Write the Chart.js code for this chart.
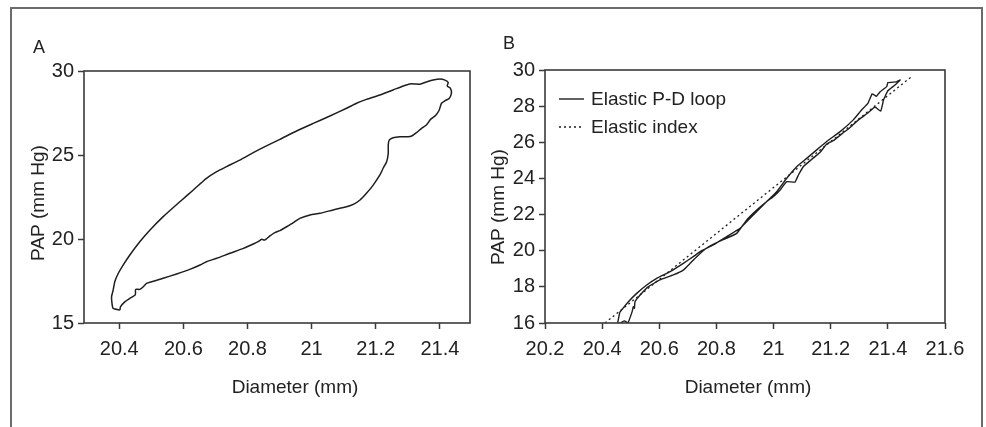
<!DOCTYPE html>
<html>
<head>
<meta charset="utf-8">
<script src="https://cdn.jsdelivr.net/npm/chart.js@4/dist/chart.umd.min.js"></script>
<style>
html,body{margin:0;padding:0;background:#fff;width:986px;height:427px;overflow:hidden;position:relative}
#frame{position:absolute;left:10px;top:7px;width:973px;height:440px;border:2px solid #6b6b6b;border-bottom:none;box-sizing:border-box}
#ca{position:absolute;left:0;top:0}
#cb{position:absolute;left:476px;top:0}
</style>
</head>
<body>
<div id="frame"></div>
<canvas id="ca" width="480" height="427"></canvas>
<canvas id="cb" width="510" height="427"></canvas>
<script>
// ---------- Panel A data: pressure-diameter loop ----------
const loopA_x = [20.402, 20.381, 20.378, 20.376, 20.381, 20.386, 20.397, 20.412, 20.433, 20.464, 20.496, 20.537, 20.589, 20.631, 20.672, 20.704, 20.735, 20.776, 20.818, 20.859, 20.901, 20.953, 21.005, 21.057, 21.109, 21.140, 21.171, 21.213, 21.254, 21.286, 21.306, 21.322, 21.338, 21.358, 21.379, 21.400, 21.416, 21.426, 21.423, 21.433, 21.436, 21.429, 21.416, 21.405, 21.398, 21.388, 21.371, 21.358, 21.343, 21.327, 21.312, 21.301, 21.275, 21.254, 21.242, 21.239, 21.239, 21.234, 21.223, 21.213, 21.192, 21.171, 21.151, 21.130, 21.109, 21.067, 21.026, 20.995, 20.963, 20.943, 20.922, 20.901, 20.885, 20.870, 20.854, 20.844, 20.833, 20.818, 20.787, 20.745, 20.704, 20.672, 20.652, 20.620, 20.579, 20.537, 20.501, 20.485, 20.475, 20.464, 20.451, 20.450, 20.433, 20.418, 20.404, 20.402];
const loopA_y = [15.77, 15.87, 16.07, 16.57, 16.96, 17.46, 17.96, 18.45, 19.05, 19.84, 20.54, 21.33, 22.22, 22.92, 23.61, 24.01, 24.31, 24.70, 25.14, 25.54, 25.93, 26.43, 26.88, 27.32, 27.78, 28.08, 28.31, 28.57, 28.87, 29.11, 29.23, 29.23, 29.21, 29.35, 29.46, 29.52, 29.46, 29.31, 29.11, 28.97, 28.67, 28.37, 28.23, 28.08, 27.68, 27.38, 27.12, 26.79, 26.59, 26.33, 26.13, 26.09, 26.09, 26.03, 25.89, 25.60, 25.10, 24.60, 24.21, 23.81, 23.21, 22.72, 22.32, 22.06, 21.92, 21.73, 21.53, 21.43, 21.23, 20.97, 20.73, 20.50, 20.38, 20.18, 19.94, 19.98, 19.84, 19.70, 19.44, 19.15, 18.85, 18.65, 18.45, 18.19, 17.92, 17.66, 17.46, 17.36, 17.16, 17.00, 17.00, 16.67, 16.47, 16.27, 15.97, 15.77];
const ticksA_x = [20.4, 20.6, 20.8, 21, 21.2, 21.4];
const labelsA_x = ['20.4', '20.6', '20.8', '21', '21.2', '21.4'];
const ticksA_y = [15, 20, 25, 30];
const labelsA_y = ['15', '20', '25', '30'];

// ---------- Panel B data ----------
const loopB_upper_x = [20.454, 20.462, 20.468, 20.492, 20.521, 20.556, 20.591, 20.638, 20.684, 20.719, 20.743, 20.789, 20.836, 20.883, 20.929, 20.976, 21.011, 21.046, 21.081, 21.116, 21.151, 21.186, 21.233, 21.279, 21.308, 21.330, 21.345, 21.360, 21.373, 21.396, 21.400, 21.430, 21.443];
const loopB_upper_y = [15.98, 16.60, 16.72, 17.18, 17.64, 18.10, 18.47, 18.84, 19.30, 19.67, 19.95, 20.32, 20.78, 21.24, 21.98, 22.72, 23.27, 24.01, 24.65, 25.11, 25.58, 26.04, 26.59, 27.24, 27.79, 28.15, 28.68, 28.55, 28.80, 29.08, 29.30, 29.34, 29.45];
const loopB_lower_x = [21.425, 21.400, 21.385, 21.375, 21.355, 21.330, 21.300, 21.270, 21.240, 21.210, 21.186, 21.163, 21.133, 21.104, 21.087, 21.075, 21.046, 21.023, 20.999, 20.976, 20.941, 20.906, 20.871, 20.836, 20.801, 20.766, 20.731, 20.708, 20.684, 20.649, 20.602, 20.562, 20.533, 20.515, 20.513, 20.509, 20.505, 20.490, 20.478, 20.462, 20.454];
const loopB_lower_y = [29.17, 28.85, 28.35, 27.72, 27.95, 27.62, 27.28, 26.85, 26.48, 26.10, 25.90, 25.45, 25.05, 24.65, 24.19, 23.80, 23.82, 23.36, 22.99, 22.72, 22.25, 21.70, 20.96, 20.70, 20.45, 20.15, 19.67, 19.30, 18.93, 18.66, 18.38, 18.01, 17.55, 17.18, 16.81, 16.90, 16.63, 16.00, 16.12, 15.98, 15.98];
const indexB_x = [20.41, 21.48];
const indexB_y = [16.0, 29.6];
const ticksB_x = [20.2, 20.4, 20.6, 20.8, 21, 21.2, 21.4, 21.6];
const labelsB_x = ['20.2', '20.4', '20.6', '20.8', '21', '21.2', '21.4', '21.6'];
const ticksB_y = [16, 18, 20, 22, 24, 26, 28, 30];
const labelsB_y = ['16', '18', '20', '22', '24', '26', '28', '30'];

// ---------- helpers ----------
const FONT = "'Liberation Sans', Arial, Helvetica, sans-serif";
const INK = '#1e1e1e';
const AXIS = '#3a3a3a';
function pts(xs, ys) { return xs.map((x, i) => ({ x: x, y: ys[i] })); }

const decor = {
  id: 'decor',
  afterDraw(chart, args, o) {
    const ctx = chart.ctx, a = chart.chartArea;
    ctx.save();
    ctx.strokeStyle = AXIS; ctx.lineWidth = 1.6;
    ctx.strokeRect(a.left, a.top, a.right - a.left, a.bottom - a.top);
    ctx.fillStyle = '#222';
    ctx.textBaseline = 'alphabetic';
    ctx.font = '18px ' + FONT; ctx.textAlign = 'left';
    ctx.fillText(o.letter, o.letterX, o.letterY);
    ctx.font = '19px ' + FONT; ctx.textAlign = 'center';
    ctx.fillText(o.xTitle, o.xTitleX, o.xTitleY);
    ctx.translate(o.yTitleX, o.yTitleY); ctx.rotate(-Math.PI / 2);
    ctx.fillText(o.yTitle, 0, 0);
    ctx.restore();
    if (o.legend) {
      const L = o.legend;
      ctx.save();
      ctx.font = '19px ' + FONT; ctx.textAlign = 'left'; ctx.textBaseline = 'alphabetic';
      chart.data.datasets.forEach((ds, i) => {
        const y = L.y + i * L.dy;
        ctx.strokeStyle = ds.borderColor; ctx.lineWidth = ds.borderWidth;
        ctx.setLineDash(ds.borderDash || []);
        ctx.beginPath(); ctx.moveTo(L.x, y); ctx.lineTo(L.x + 25, y); ctx.stroke();
        ctx.setLineDash([]);
        ctx.fillStyle = '#222';
        ctx.fillText(ds.label, L.x + 32, y + 5.6);
      });
      ctx.restore();
    }
  }
};

function axis(min, max, ticks, labels, fontSize, pad, fit) {
  return {
    type: 'linear', min: min, max: max,
    afterBuildTicks: s => { s.ticks = ticks.map(v => ({ value: v })); },
    afterFit: fit,
    ticks: { font: { family: FONT, size: fontSize }, color: '#222', padding: pad, maxRotation: 0, autoSkip: false,
             callback: (v, i) => labels[i] },
    grid: { drawOnChartArea: false, drawTicks: true, tickLength: 6, tickColor: AXIS, tickWidth: 1.5 },
    border: { display: false }
  };
}

// ---------- Panel A ----------
new Chart(document.getElementById('ca'), {
  type: 'scatter',
  data: { datasets: [{
    label: 'P-D loop', data: pts(loopA_x, loopA_y), showLine: true,
    borderColor: INK, borderWidth: 1.5, pointRadius: 0, tension: 0.2, fill: false
  }]},
  options: {
    responsive: false, animation: false, devicePixelRatio: 1,
    layout: { padding: { left: 0, top: 71, right: 10, bottom: 0 } },
    plugins: {
      legend: { display: false }, tooltip: { enabled: false },
      decor: { letter: 'A', letterX: 33, letterY: 53,
               xTitle: 'Diameter (mm)', xTitleX: 295, xTitleY: 393,
               yTitle: 'PAP (mm Hg)', yTitleX: 44, yTitleY: 203 }
    },
    scales: {
      x: Object.assign(axis(20.29, 21.494, ticksA_x, labelsA_x, 20, 8, s => { s.height = 104; }), { position: 'bottom' }),
      y: Object.assign(axis(15, 30, ticksA_y, labelsA_y, 20, 4, s => { s.width = 84; }), { position: 'left' })
    }
  },
  plugins: [decor]
});

// ---------- Panel B ----------
new Chart(document.getElementById('cb'), {
  type: 'scatter',
  data: { datasets: [
    { label: 'Elastic P-D loop',
      data: pts(loopB_upper_x.concat(loopB_lower_x), loopB_upper_y.concat(loopB_lower_y)),
      showLine: true, borderColor: INK, borderWidth: 1.4, pointRadius: 0, tension: 0.1, fill: false },
    { label: 'Elastic index', data: pts(indexB_x, indexB_y), showLine: true,
      borderColor: INK, borderWidth: 1.3, borderDash: [2, 3], pointRadius: 0, fill: false }
  ]},
  options: {
    responsive: false, animation: false, devicePixelRatio: 1,
    layout: { padding: { left: 0, top: 70, right: 41, bottom: 0 } },
    plugins: {
      legend: { display: false }, tooltip: { enabled: false },
      decor: { letter: 'B', letterX: 27, letterY: 49,
               xTitle: 'Diameter (mm)', xTitleX: 272, xTitleY: 393,
               yTitle: 'PAP (mm Hg)', yTitleX: 28, yTitleY: 207,
               legend: { x: 83, y: 99, dy: 28 } }
    },
    scales: {
      x: Object.assign(axis(20.2, 21.6, ticksB_x, labelsB_x, 20, 8, s => { s.height = 104; }), { position: 'bottom' }),
      y: Object.assign(axis(16, 30, ticksB_y, labelsB_y, 20, 4, s => { s.width = 69; }), { position: 'left' })
    }
  },
  plugins: [decor]
});
</script>
</body>
</html>
